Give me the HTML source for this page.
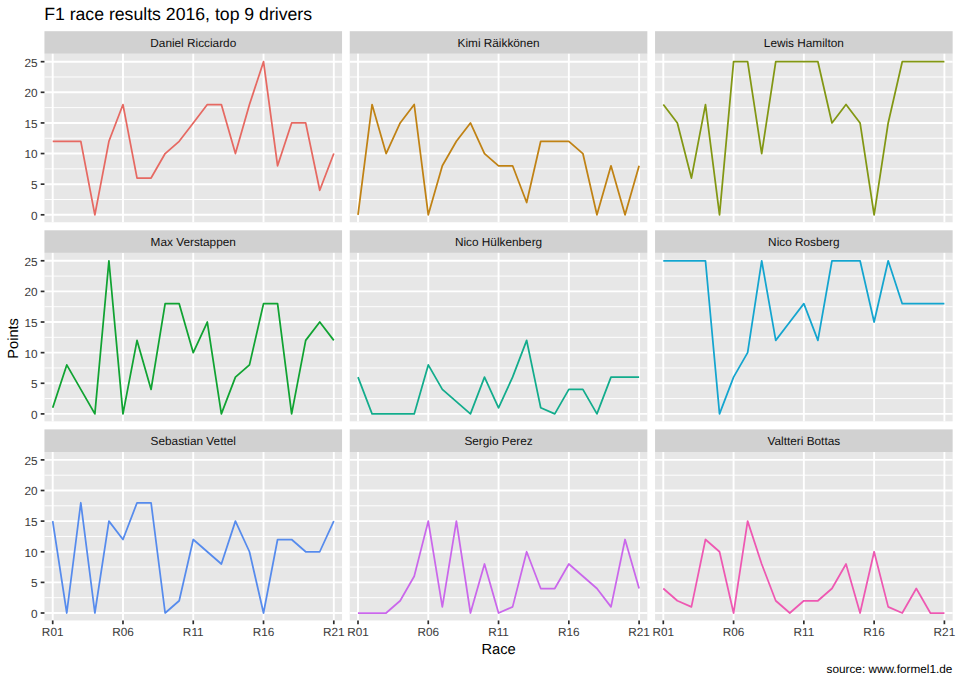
<!DOCTYPE html><html><head><meta charset="utf-8"><style>html,body{margin:0;padding:0;background:#fff;}svg{display:block;}text{font-family:"Liberation Sans",sans-serif;text-rendering:geometricPrecision;}</style></head><body>
<svg width="960" height="683" viewBox="0 0 960 683">
<rect x="0" y="0" width="960" height="683" fill="#fff"/>
<rect x="44.45" y="31.2" width="297.6" height="22.6" fill="#D1D1D1"/>
<text x="193.25" y="47" font-size="11.8" fill="#101010" text-anchor="middle">Daniel Ricciardo</text>
<rect x="44.45" y="53.8" width="297.6" height="168.45" fill="#E7E7E7"/>
<line x1="44.45" x2="342.05" y1="199.49" y2="199.49" stroke="#fff" stroke-width="0.95"/>
<line x1="44.45" x2="342.05" y1="168.86" y2="168.86" stroke="#fff" stroke-width="0.95"/>
<line x1="44.45" x2="342.05" y1="138.24" y2="138.24" stroke="#fff" stroke-width="0.95"/>
<line x1="44.45" x2="342.05" y1="107.61" y2="107.61" stroke="#fff" stroke-width="0.95"/>
<line x1="44.45" x2="342.05" y1="76.99" y2="76.99" stroke="#fff" stroke-width="0.95"/>
<line x1="44.45" x2="342.05" y1="214.8" y2="214.8" stroke="#fff" stroke-width="1.9"/>
<line x1="44.45" x2="342.05" y1="184.18" y2="184.18" stroke="#fff" stroke-width="1.9"/>
<line x1="44.45" x2="342.05" y1="153.55" y2="153.55" stroke="#fff" stroke-width="1.9"/>
<line x1="44.45" x2="342.05" y1="122.93" y2="122.93" stroke="#fff" stroke-width="1.9"/>
<line x1="44.45" x2="342.05" y1="92.3" y2="92.3" stroke="#fff" stroke-width="1.9"/>
<line x1="44.45" x2="342.05" y1="61.68" y2="61.68" stroke="#fff" stroke-width="1.9"/>
<line x1="52.7" x2="52.7" y1="53.8" y2="222.25" stroke="#fff" stroke-width="1.9"/>
<line x1="122.98" x2="122.98" y1="53.8" y2="222.25" stroke="#fff" stroke-width="1.9"/>
<line x1="193.25" x2="193.25" y1="53.8" y2="222.25" stroke="#fff" stroke-width="1.9"/>
<line x1="263.52" x2="263.52" y1="53.8" y2="222.25" stroke="#fff" stroke-width="1.9"/>
<line x1="333.8" x2="333.8" y1="53.8" y2="222.25" stroke="#fff" stroke-width="1.9"/>
<polyline points="52.7,141.3 66.75,141.3 80.81,141.3 94.87,214.8 108.92,141.3 122.98,104.55 137.03,178.05 151.08,178.05 165.14,153.55 179.19,141.3 193.25,122.93 207.31,104.55 221.36,104.55 235.42,153.55 249.47,104.55 263.52,61.68 277.58,165.8 291.63,122.93 305.69,122.93 319.75,190.3 333.8,153.55" fill="none" stroke="#E66962" stroke-width="1.75" stroke-linejoin="round" stroke-linecap="butt"/>
<line x1="40.7" x2="44.45" y1="214.8" y2="214.8" stroke="#2E2E2E" stroke-width="1.7"/>
<text x="37.6" y="219.7" font-size="11.8" fill="#3B3B3B" text-anchor="end">0</text>
<line x1="40.7" x2="44.45" y1="184.18" y2="184.18" stroke="#2E2E2E" stroke-width="1.7"/>
<text x="37.6" y="189.08" font-size="11.8" fill="#3B3B3B" text-anchor="end">5</text>
<line x1="40.7" x2="44.45" y1="153.55" y2="153.55" stroke="#2E2E2E" stroke-width="1.7"/>
<text x="37.6" y="158.45" font-size="11.8" fill="#3B3B3B" text-anchor="end">10</text>
<line x1="40.7" x2="44.45" y1="122.93" y2="122.93" stroke="#2E2E2E" stroke-width="1.7"/>
<text x="37.6" y="127.83" font-size="11.8" fill="#3B3B3B" text-anchor="end">15</text>
<line x1="40.7" x2="44.45" y1="92.3" y2="92.3" stroke="#2E2E2E" stroke-width="1.7"/>
<text x="37.6" y="97.2" font-size="11.8" fill="#3B3B3B" text-anchor="end">20</text>
<line x1="40.7" x2="44.45" y1="61.68" y2="61.68" stroke="#2E2E2E" stroke-width="1.7"/>
<text x="37.6" y="66.58" font-size="11.8" fill="#3B3B3B" text-anchor="end">25</text>
<rect x="349.75" y="31.2" width="297.6" height="22.6" fill="#D1D1D1"/>
<text x="498.55" y="47" font-size="11.8" fill="#101010" text-anchor="middle">Kimi Räikkönen</text>
<rect x="349.75" y="53.8" width="297.6" height="168.45" fill="#E7E7E7"/>
<line x1="349.75" x2="647.35" y1="199.49" y2="199.49" stroke="#fff" stroke-width="0.95"/>
<line x1="349.75" x2="647.35" y1="168.86" y2="168.86" stroke="#fff" stroke-width="0.95"/>
<line x1="349.75" x2="647.35" y1="138.24" y2="138.24" stroke="#fff" stroke-width="0.95"/>
<line x1="349.75" x2="647.35" y1="107.61" y2="107.61" stroke="#fff" stroke-width="0.95"/>
<line x1="349.75" x2="647.35" y1="76.99" y2="76.99" stroke="#fff" stroke-width="0.95"/>
<line x1="349.75" x2="647.35" y1="214.8" y2="214.8" stroke="#fff" stroke-width="1.9"/>
<line x1="349.75" x2="647.35" y1="184.18" y2="184.18" stroke="#fff" stroke-width="1.9"/>
<line x1="349.75" x2="647.35" y1="153.55" y2="153.55" stroke="#fff" stroke-width="1.9"/>
<line x1="349.75" x2="647.35" y1="122.93" y2="122.93" stroke="#fff" stroke-width="1.9"/>
<line x1="349.75" x2="647.35" y1="92.3" y2="92.3" stroke="#fff" stroke-width="1.9"/>
<line x1="349.75" x2="647.35" y1="61.68" y2="61.68" stroke="#fff" stroke-width="1.9"/>
<line x1="358" x2="358" y1="53.8" y2="222.25" stroke="#fff" stroke-width="1.9"/>
<line x1="428.27" x2="428.27" y1="53.8" y2="222.25" stroke="#fff" stroke-width="1.9"/>
<line x1="498.55" x2="498.55" y1="53.8" y2="222.25" stroke="#fff" stroke-width="1.9"/>
<line x1="568.83" x2="568.83" y1="53.8" y2="222.25" stroke="#fff" stroke-width="1.9"/>
<line x1="639.1" x2="639.1" y1="53.8" y2="222.25" stroke="#fff" stroke-width="1.9"/>
<polyline points="358,214.8 372.06,104.55 386.11,153.55 400.17,122.93 414.22,104.55 428.27,214.8 442.33,165.8 456.38,141.3 470.44,122.93 484.5,153.55 498.55,165.8 512.61,165.8 526.66,202.55 540.72,141.3 554.77,141.3 568.83,141.3 582.88,153.55 596.93,214.8 610.99,165.8 625.05,214.8 639.1,165.8" fill="none" stroke="#C08214" stroke-width="1.75" stroke-linejoin="round" stroke-linecap="butt"/>
<rect x="655.05" y="31.2" width="297.6" height="22.6" fill="#D1D1D1"/>
<text x="803.85" y="47" font-size="11.8" fill="#101010" text-anchor="middle">Lewis Hamilton</text>
<rect x="655.05" y="53.8" width="297.6" height="168.45" fill="#E7E7E7"/>
<line x1="655.05" x2="952.65" y1="199.49" y2="199.49" stroke="#fff" stroke-width="0.95"/>
<line x1="655.05" x2="952.65" y1="168.86" y2="168.86" stroke="#fff" stroke-width="0.95"/>
<line x1="655.05" x2="952.65" y1="138.24" y2="138.24" stroke="#fff" stroke-width="0.95"/>
<line x1="655.05" x2="952.65" y1="107.61" y2="107.61" stroke="#fff" stroke-width="0.95"/>
<line x1="655.05" x2="952.65" y1="76.99" y2="76.99" stroke="#fff" stroke-width="0.95"/>
<line x1="655.05" x2="952.65" y1="214.8" y2="214.8" stroke="#fff" stroke-width="1.9"/>
<line x1="655.05" x2="952.65" y1="184.18" y2="184.18" stroke="#fff" stroke-width="1.9"/>
<line x1="655.05" x2="952.65" y1="153.55" y2="153.55" stroke="#fff" stroke-width="1.9"/>
<line x1="655.05" x2="952.65" y1="122.93" y2="122.93" stroke="#fff" stroke-width="1.9"/>
<line x1="655.05" x2="952.65" y1="92.3" y2="92.3" stroke="#fff" stroke-width="1.9"/>
<line x1="655.05" x2="952.65" y1="61.68" y2="61.68" stroke="#fff" stroke-width="1.9"/>
<line x1="663.3" x2="663.3" y1="53.8" y2="222.25" stroke="#fff" stroke-width="1.9"/>
<line x1="733.58" x2="733.58" y1="53.8" y2="222.25" stroke="#fff" stroke-width="1.9"/>
<line x1="803.85" x2="803.85" y1="53.8" y2="222.25" stroke="#fff" stroke-width="1.9"/>
<line x1="874.12" x2="874.12" y1="53.8" y2="222.25" stroke="#fff" stroke-width="1.9"/>
<line x1="944.4" x2="944.4" y1="53.8" y2="222.25" stroke="#fff" stroke-width="1.9"/>
<polyline points="663.3,104.55 677.36,122.93 691.41,178.05 705.47,104.55 719.52,214.8 733.58,61.68 747.63,61.68 761.69,153.55 775.74,61.68 789.8,61.68 803.85,61.68 817.91,61.68 831.96,122.93 846.02,104.55 860.07,122.93 874.12,214.8 888.18,122.93 902.24,61.68 916.29,61.68 930.35,61.68 944.4,61.68" fill="none" stroke="#829713" stroke-width="1.75" stroke-linejoin="round" stroke-linecap="butt"/>
<rect x="44.45" y="230.3" width="297.6" height="22.6" fill="#D1D1D1"/>
<text x="193.25" y="246.1" font-size="11.8" fill="#101010" text-anchor="middle">Max Verstappen</text>
<rect x="44.45" y="252.9" width="297.6" height="168.45" fill="#E7E7E7"/>
<line x1="44.45" x2="342.05" y1="398.59" y2="398.59" stroke="#fff" stroke-width="0.95"/>
<line x1="44.45" x2="342.05" y1="367.96" y2="367.96" stroke="#fff" stroke-width="0.95"/>
<line x1="44.45" x2="342.05" y1="337.34" y2="337.34" stroke="#fff" stroke-width="0.95"/>
<line x1="44.45" x2="342.05" y1="306.71" y2="306.71" stroke="#fff" stroke-width="0.95"/>
<line x1="44.45" x2="342.05" y1="276.09" y2="276.09" stroke="#fff" stroke-width="0.95"/>
<line x1="44.45" x2="342.05" y1="413.9" y2="413.9" stroke="#fff" stroke-width="1.9"/>
<line x1="44.45" x2="342.05" y1="383.27" y2="383.27" stroke="#fff" stroke-width="1.9"/>
<line x1="44.45" x2="342.05" y1="352.65" y2="352.65" stroke="#fff" stroke-width="1.9"/>
<line x1="44.45" x2="342.05" y1="322.02" y2="322.02" stroke="#fff" stroke-width="1.9"/>
<line x1="44.45" x2="342.05" y1="291.4" y2="291.4" stroke="#fff" stroke-width="1.9"/>
<line x1="44.45" x2="342.05" y1="260.77" y2="260.77" stroke="#fff" stroke-width="1.9"/>
<line x1="52.7" x2="52.7" y1="252.9" y2="421.35" stroke="#fff" stroke-width="1.9"/>
<line x1="122.98" x2="122.98" y1="252.9" y2="421.35" stroke="#fff" stroke-width="1.9"/>
<line x1="193.25" x2="193.25" y1="252.9" y2="421.35" stroke="#fff" stroke-width="1.9"/>
<line x1="263.52" x2="263.52" y1="252.9" y2="421.35" stroke="#fff" stroke-width="1.9"/>
<line x1="333.8" x2="333.8" y1="252.9" y2="421.35" stroke="#fff" stroke-width="1.9"/>
<polyline points="52.7,407.77 66.75,364.9 80.81,389.4 94.87,413.9 108.92,260.77 122.98,413.9 137.03,340.4 151.08,389.4 165.14,303.65 179.19,303.65 193.25,352.65 207.31,322.02 221.36,413.9 235.42,377.15 249.47,364.9 263.52,303.65 277.58,303.65 291.63,413.9 305.69,340.4 319.75,322.02 333.8,340.4" fill="none" stroke="#10A332" stroke-width="1.75" stroke-linejoin="round" stroke-linecap="butt"/>
<line x1="40.7" x2="44.45" y1="413.9" y2="413.9" stroke="#2E2E2E" stroke-width="1.7"/>
<text x="37.6" y="418.8" font-size="11.8" fill="#3B3B3B" text-anchor="end">0</text>
<line x1="40.7" x2="44.45" y1="383.27" y2="383.27" stroke="#2E2E2E" stroke-width="1.7"/>
<text x="37.6" y="388.17" font-size="11.8" fill="#3B3B3B" text-anchor="end">5</text>
<line x1="40.7" x2="44.45" y1="352.65" y2="352.65" stroke="#2E2E2E" stroke-width="1.7"/>
<text x="37.6" y="357.55" font-size="11.8" fill="#3B3B3B" text-anchor="end">10</text>
<line x1="40.7" x2="44.45" y1="322.02" y2="322.02" stroke="#2E2E2E" stroke-width="1.7"/>
<text x="37.6" y="326.92" font-size="11.8" fill="#3B3B3B" text-anchor="end">15</text>
<line x1="40.7" x2="44.45" y1="291.4" y2="291.4" stroke="#2E2E2E" stroke-width="1.7"/>
<text x="37.6" y="296.3" font-size="11.8" fill="#3B3B3B" text-anchor="end">20</text>
<line x1="40.7" x2="44.45" y1="260.77" y2="260.77" stroke="#2E2E2E" stroke-width="1.7"/>
<text x="37.6" y="265.67" font-size="11.8" fill="#3B3B3B" text-anchor="end">25</text>
<rect x="349.75" y="230.3" width="297.6" height="22.6" fill="#D1D1D1"/>
<text x="498.55" y="246.1" font-size="11.8" fill="#101010" text-anchor="middle">Nico Hülkenberg</text>
<rect x="349.75" y="252.9" width="297.6" height="168.45" fill="#E7E7E7"/>
<line x1="349.75" x2="647.35" y1="398.59" y2="398.59" stroke="#fff" stroke-width="0.95"/>
<line x1="349.75" x2="647.35" y1="367.96" y2="367.96" stroke="#fff" stroke-width="0.95"/>
<line x1="349.75" x2="647.35" y1="337.34" y2="337.34" stroke="#fff" stroke-width="0.95"/>
<line x1="349.75" x2="647.35" y1="306.71" y2="306.71" stroke="#fff" stroke-width="0.95"/>
<line x1="349.75" x2="647.35" y1="276.09" y2="276.09" stroke="#fff" stroke-width="0.95"/>
<line x1="349.75" x2="647.35" y1="413.9" y2="413.9" stroke="#fff" stroke-width="1.9"/>
<line x1="349.75" x2="647.35" y1="383.27" y2="383.27" stroke="#fff" stroke-width="1.9"/>
<line x1="349.75" x2="647.35" y1="352.65" y2="352.65" stroke="#fff" stroke-width="1.9"/>
<line x1="349.75" x2="647.35" y1="322.02" y2="322.02" stroke="#fff" stroke-width="1.9"/>
<line x1="349.75" x2="647.35" y1="291.4" y2="291.4" stroke="#fff" stroke-width="1.9"/>
<line x1="349.75" x2="647.35" y1="260.77" y2="260.77" stroke="#fff" stroke-width="1.9"/>
<line x1="358" x2="358" y1="252.9" y2="421.35" stroke="#fff" stroke-width="1.9"/>
<line x1="428.27" x2="428.27" y1="252.9" y2="421.35" stroke="#fff" stroke-width="1.9"/>
<line x1="498.55" x2="498.55" y1="252.9" y2="421.35" stroke="#fff" stroke-width="1.9"/>
<line x1="568.83" x2="568.83" y1="252.9" y2="421.35" stroke="#fff" stroke-width="1.9"/>
<line x1="639.1" x2="639.1" y1="252.9" y2="421.35" stroke="#fff" stroke-width="1.9"/>
<polyline points="358,377.15 372.06,413.9 386.11,413.9 400.17,413.9 414.22,413.9 428.27,364.9 442.33,389.4 456.38,401.65 470.44,413.9 484.5,377.15 498.55,407.77 512.61,377.15 526.66,340.4 540.72,407.77 554.77,413.9 568.83,389.4 582.88,389.4 596.93,413.9 610.99,377.15 625.05,377.15 639.1,377.15" fill="none" stroke="#12AC8C" stroke-width="1.75" stroke-linejoin="round" stroke-linecap="butt"/>
<rect x="655.05" y="230.3" width="297.6" height="22.6" fill="#D1D1D1"/>
<text x="803.85" y="246.1" font-size="11.8" fill="#101010" text-anchor="middle">Nico Rosberg</text>
<rect x="655.05" y="252.9" width="297.6" height="168.45" fill="#E7E7E7"/>
<line x1="655.05" x2="952.65" y1="398.59" y2="398.59" stroke="#fff" stroke-width="0.95"/>
<line x1="655.05" x2="952.65" y1="367.96" y2="367.96" stroke="#fff" stroke-width="0.95"/>
<line x1="655.05" x2="952.65" y1="337.34" y2="337.34" stroke="#fff" stroke-width="0.95"/>
<line x1="655.05" x2="952.65" y1="306.71" y2="306.71" stroke="#fff" stroke-width="0.95"/>
<line x1="655.05" x2="952.65" y1="276.09" y2="276.09" stroke="#fff" stroke-width="0.95"/>
<line x1="655.05" x2="952.65" y1="413.9" y2="413.9" stroke="#fff" stroke-width="1.9"/>
<line x1="655.05" x2="952.65" y1="383.27" y2="383.27" stroke="#fff" stroke-width="1.9"/>
<line x1="655.05" x2="952.65" y1="352.65" y2="352.65" stroke="#fff" stroke-width="1.9"/>
<line x1="655.05" x2="952.65" y1="322.02" y2="322.02" stroke="#fff" stroke-width="1.9"/>
<line x1="655.05" x2="952.65" y1="291.4" y2="291.4" stroke="#fff" stroke-width="1.9"/>
<line x1="655.05" x2="952.65" y1="260.77" y2="260.77" stroke="#fff" stroke-width="1.9"/>
<line x1="663.3" x2="663.3" y1="252.9" y2="421.35" stroke="#fff" stroke-width="1.9"/>
<line x1="733.58" x2="733.58" y1="252.9" y2="421.35" stroke="#fff" stroke-width="1.9"/>
<line x1="803.85" x2="803.85" y1="252.9" y2="421.35" stroke="#fff" stroke-width="1.9"/>
<line x1="874.12" x2="874.12" y1="252.9" y2="421.35" stroke="#fff" stroke-width="1.9"/>
<line x1="944.4" x2="944.4" y1="252.9" y2="421.35" stroke="#fff" stroke-width="1.9"/>
<polyline points="663.3,260.77 677.36,260.77 691.41,260.77 705.47,260.77 719.52,413.9 733.58,377.15 747.63,352.65 761.69,260.77 775.74,340.4 789.8,322.02 803.85,303.65 817.91,340.4 831.96,260.77 846.02,260.77 860.07,260.77 874.12,322.02 888.18,260.77 902.24,303.65 916.29,303.65 930.35,303.65 944.4,303.65" fill="none" stroke="#13A5CF" stroke-width="1.75" stroke-linejoin="round" stroke-linecap="butt"/>
<rect x="44.45" y="429.4" width="297.6" height="22.6" fill="#D1D1D1"/>
<text x="193.25" y="445.2" font-size="11.8" fill="#101010" text-anchor="middle">Sebastian Vettel</text>
<rect x="44.45" y="452" width="297.6" height="168.45" fill="#E7E7E7"/>
<line x1="44.45" x2="342.05" y1="597.69" y2="597.69" stroke="#fff" stroke-width="0.95"/>
<line x1="44.45" x2="342.05" y1="567.06" y2="567.06" stroke="#fff" stroke-width="0.95"/>
<line x1="44.45" x2="342.05" y1="536.44" y2="536.44" stroke="#fff" stroke-width="0.95"/>
<line x1="44.45" x2="342.05" y1="505.81" y2="505.81" stroke="#fff" stroke-width="0.95"/>
<line x1="44.45" x2="342.05" y1="475.19" y2="475.19" stroke="#fff" stroke-width="0.95"/>
<line x1="44.45" x2="342.05" y1="613" y2="613" stroke="#fff" stroke-width="1.9"/>
<line x1="44.45" x2="342.05" y1="582.38" y2="582.38" stroke="#fff" stroke-width="1.9"/>
<line x1="44.45" x2="342.05" y1="551.75" y2="551.75" stroke="#fff" stroke-width="1.9"/>
<line x1="44.45" x2="342.05" y1="521.12" y2="521.12" stroke="#fff" stroke-width="1.9"/>
<line x1="44.45" x2="342.05" y1="490.5" y2="490.5" stroke="#fff" stroke-width="1.9"/>
<line x1="44.45" x2="342.05" y1="459.88" y2="459.88" stroke="#fff" stroke-width="1.9"/>
<line x1="52.7" x2="52.7" y1="452" y2="620.45" stroke="#fff" stroke-width="1.9"/>
<line x1="122.98" x2="122.98" y1="452" y2="620.45" stroke="#fff" stroke-width="1.9"/>
<line x1="193.25" x2="193.25" y1="452" y2="620.45" stroke="#fff" stroke-width="1.9"/>
<line x1="263.52" x2="263.52" y1="452" y2="620.45" stroke="#fff" stroke-width="1.9"/>
<line x1="333.8" x2="333.8" y1="452" y2="620.45" stroke="#fff" stroke-width="1.9"/>
<polyline points="52.7,521.12 66.75,613 80.81,502.75 94.87,613 108.92,521.12 122.98,539.5 137.03,502.75 151.08,502.75 165.14,613 179.19,600.75 193.25,539.5 207.31,551.75 221.36,564 235.42,521.12 249.47,551.75 263.52,613 277.58,539.5 291.63,539.5 305.69,551.75 319.75,551.75 333.8,521.12" fill="none" stroke="#568BED" stroke-width="1.75" stroke-linejoin="round" stroke-linecap="butt"/>
<line x1="40.7" x2="44.45" y1="613" y2="613" stroke="#2E2E2E" stroke-width="1.7"/>
<text x="37.6" y="617.9" font-size="11.8" fill="#3B3B3B" text-anchor="end">0</text>
<line x1="40.7" x2="44.45" y1="582.38" y2="582.38" stroke="#2E2E2E" stroke-width="1.7"/>
<text x="37.6" y="587.27" font-size="11.8" fill="#3B3B3B" text-anchor="end">5</text>
<line x1="40.7" x2="44.45" y1="551.75" y2="551.75" stroke="#2E2E2E" stroke-width="1.7"/>
<text x="37.6" y="556.65" font-size="11.8" fill="#3B3B3B" text-anchor="end">10</text>
<line x1="40.7" x2="44.45" y1="521.12" y2="521.12" stroke="#2E2E2E" stroke-width="1.7"/>
<text x="37.6" y="526.02" font-size="11.8" fill="#3B3B3B" text-anchor="end">15</text>
<line x1="40.7" x2="44.45" y1="490.5" y2="490.5" stroke="#2E2E2E" stroke-width="1.7"/>
<text x="37.6" y="495.4" font-size="11.8" fill="#3B3B3B" text-anchor="end">20</text>
<line x1="40.7" x2="44.45" y1="459.88" y2="459.88" stroke="#2E2E2E" stroke-width="1.7"/>
<text x="37.6" y="464.77" font-size="11.8" fill="#3B3B3B" text-anchor="end">25</text>
<line x1="52.7" x2="52.7" y1="620.45" y2="624.2" stroke="#2E2E2E" stroke-width="1.7"/>
<text x="52.7" y="635.9" font-size="11.8" fill="#3B3B3B" text-anchor="middle">R01</text>
<line x1="122.98" x2="122.98" y1="620.45" y2="624.2" stroke="#2E2E2E" stroke-width="1.7"/>
<text x="122.98" y="635.9" font-size="11.8" fill="#3B3B3B" text-anchor="middle">R06</text>
<line x1="193.25" x2="193.25" y1="620.45" y2="624.2" stroke="#2E2E2E" stroke-width="1.7"/>
<text x="193.25" y="635.9" font-size="11.8" fill="#3B3B3B" text-anchor="middle">R11</text>
<line x1="263.52" x2="263.52" y1="620.45" y2="624.2" stroke="#2E2E2E" stroke-width="1.7"/>
<text x="263.52" y="635.9" font-size="11.8" fill="#3B3B3B" text-anchor="middle">R16</text>
<line x1="333.8" x2="333.8" y1="620.45" y2="624.2" stroke="#2E2E2E" stroke-width="1.7"/>
<text x="333.8" y="635.9" font-size="11.8" fill="#3B3B3B" text-anchor="middle">R21</text>
<rect x="349.75" y="429.4" width="297.6" height="22.6" fill="#D1D1D1"/>
<text x="498.55" y="445.2" font-size="11.8" fill="#101010" text-anchor="middle">Sergio Perez</text>
<rect x="349.75" y="452" width="297.6" height="168.45" fill="#E7E7E7"/>
<line x1="349.75" x2="647.35" y1="597.69" y2="597.69" stroke="#fff" stroke-width="0.95"/>
<line x1="349.75" x2="647.35" y1="567.06" y2="567.06" stroke="#fff" stroke-width="0.95"/>
<line x1="349.75" x2="647.35" y1="536.44" y2="536.44" stroke="#fff" stroke-width="0.95"/>
<line x1="349.75" x2="647.35" y1="505.81" y2="505.81" stroke="#fff" stroke-width="0.95"/>
<line x1="349.75" x2="647.35" y1="475.19" y2="475.19" stroke="#fff" stroke-width="0.95"/>
<line x1="349.75" x2="647.35" y1="613" y2="613" stroke="#fff" stroke-width="1.9"/>
<line x1="349.75" x2="647.35" y1="582.38" y2="582.38" stroke="#fff" stroke-width="1.9"/>
<line x1="349.75" x2="647.35" y1="551.75" y2="551.75" stroke="#fff" stroke-width="1.9"/>
<line x1="349.75" x2="647.35" y1="521.12" y2="521.12" stroke="#fff" stroke-width="1.9"/>
<line x1="349.75" x2="647.35" y1="490.5" y2="490.5" stroke="#fff" stroke-width="1.9"/>
<line x1="349.75" x2="647.35" y1="459.88" y2="459.88" stroke="#fff" stroke-width="1.9"/>
<line x1="358" x2="358" y1="452" y2="620.45" stroke="#fff" stroke-width="1.9"/>
<line x1="428.27" x2="428.27" y1="452" y2="620.45" stroke="#fff" stroke-width="1.9"/>
<line x1="498.55" x2="498.55" y1="452" y2="620.45" stroke="#fff" stroke-width="1.9"/>
<line x1="568.83" x2="568.83" y1="452" y2="620.45" stroke="#fff" stroke-width="1.9"/>
<line x1="639.1" x2="639.1" y1="452" y2="620.45" stroke="#fff" stroke-width="1.9"/>
<polyline points="358,613 372.06,613 386.11,613 400.17,600.75 414.22,576.25 428.27,521.12 442.33,606.88 456.38,521.12 470.44,613 484.5,564 498.55,613 512.61,606.88 526.66,551.75 540.72,588.5 554.77,588.5 568.83,564 582.88,576.25 596.93,588.5 610.99,606.88 625.05,539.5 639.1,588.5" fill="none" stroke="#CA67EB" stroke-width="1.75" stroke-linejoin="round" stroke-linecap="butt"/>
<line x1="358" x2="358" y1="620.45" y2="624.2" stroke="#2E2E2E" stroke-width="1.7"/>
<text x="358" y="635.9" font-size="11.8" fill="#3B3B3B" text-anchor="middle">R01</text>
<line x1="428.27" x2="428.27" y1="620.45" y2="624.2" stroke="#2E2E2E" stroke-width="1.7"/>
<text x="428.27" y="635.9" font-size="11.8" fill="#3B3B3B" text-anchor="middle">R06</text>
<line x1="498.55" x2="498.55" y1="620.45" y2="624.2" stroke="#2E2E2E" stroke-width="1.7"/>
<text x="498.55" y="635.9" font-size="11.8" fill="#3B3B3B" text-anchor="middle">R11</text>
<line x1="568.83" x2="568.83" y1="620.45" y2="624.2" stroke="#2E2E2E" stroke-width="1.7"/>
<text x="568.83" y="635.9" font-size="11.8" fill="#3B3B3B" text-anchor="middle">R16</text>
<line x1="639.1" x2="639.1" y1="620.45" y2="624.2" stroke="#2E2E2E" stroke-width="1.7"/>
<text x="639.1" y="635.9" font-size="11.8" fill="#3B3B3B" text-anchor="middle">R21</text>
<rect x="655.05" y="429.4" width="297.6" height="22.6" fill="#D1D1D1"/>
<text x="803.85" y="445.2" font-size="11.8" fill="#101010" text-anchor="middle">Valtteri Bottas</text>
<rect x="655.05" y="452" width="297.6" height="168.45" fill="#E7E7E7"/>
<line x1="655.05" x2="952.65" y1="597.69" y2="597.69" stroke="#fff" stroke-width="0.95"/>
<line x1="655.05" x2="952.65" y1="567.06" y2="567.06" stroke="#fff" stroke-width="0.95"/>
<line x1="655.05" x2="952.65" y1="536.44" y2="536.44" stroke="#fff" stroke-width="0.95"/>
<line x1="655.05" x2="952.65" y1="505.81" y2="505.81" stroke="#fff" stroke-width="0.95"/>
<line x1="655.05" x2="952.65" y1="475.19" y2="475.19" stroke="#fff" stroke-width="0.95"/>
<line x1="655.05" x2="952.65" y1="613" y2="613" stroke="#fff" stroke-width="1.9"/>
<line x1="655.05" x2="952.65" y1="582.38" y2="582.38" stroke="#fff" stroke-width="1.9"/>
<line x1="655.05" x2="952.65" y1="551.75" y2="551.75" stroke="#fff" stroke-width="1.9"/>
<line x1="655.05" x2="952.65" y1="521.12" y2="521.12" stroke="#fff" stroke-width="1.9"/>
<line x1="655.05" x2="952.65" y1="490.5" y2="490.5" stroke="#fff" stroke-width="1.9"/>
<line x1="655.05" x2="952.65" y1="459.88" y2="459.88" stroke="#fff" stroke-width="1.9"/>
<line x1="663.3" x2="663.3" y1="452" y2="620.45" stroke="#fff" stroke-width="1.9"/>
<line x1="733.58" x2="733.58" y1="452" y2="620.45" stroke="#fff" stroke-width="1.9"/>
<line x1="803.85" x2="803.85" y1="452" y2="620.45" stroke="#fff" stroke-width="1.9"/>
<line x1="874.12" x2="874.12" y1="452" y2="620.45" stroke="#fff" stroke-width="1.9"/>
<line x1="944.4" x2="944.4" y1="452" y2="620.45" stroke="#fff" stroke-width="1.9"/>
<polyline points="663.3,588.5 677.36,600.75 691.41,606.88 705.47,539.5 719.52,551.75 733.58,613 747.63,521.12 761.69,564 775.74,600.75 789.8,613 803.85,600.75 817.91,600.75 831.96,588.5 846.02,564 860.07,613 874.12,551.75 888.18,606.88 902.24,613 916.29,588.5 930.35,613 944.4,613" fill="none" stroke="#EE58B2" stroke-width="1.75" stroke-linejoin="round" stroke-linecap="butt"/>
<line x1="663.3" x2="663.3" y1="620.45" y2="624.2" stroke="#2E2E2E" stroke-width="1.7"/>
<text x="663.3" y="635.9" font-size="11.8" fill="#3B3B3B" text-anchor="middle">R01</text>
<line x1="733.58" x2="733.58" y1="620.45" y2="624.2" stroke="#2E2E2E" stroke-width="1.7"/>
<text x="733.58" y="635.9" font-size="11.8" fill="#3B3B3B" text-anchor="middle">R06</text>
<line x1="803.85" x2="803.85" y1="620.45" y2="624.2" stroke="#2E2E2E" stroke-width="1.7"/>
<text x="803.85" y="635.9" font-size="11.8" fill="#3B3B3B" text-anchor="middle">R11</text>
<line x1="874.12" x2="874.12" y1="620.45" y2="624.2" stroke="#2E2E2E" stroke-width="1.7"/>
<text x="874.12" y="635.9" font-size="11.8" fill="#3B3B3B" text-anchor="middle">R16</text>
<line x1="944.4" x2="944.4" y1="620.45" y2="624.2" stroke="#2E2E2E" stroke-width="1.7"/>
<text x="944.4" y="635.9" font-size="11.8" fill="#3B3B3B" text-anchor="middle">R21</text>
<text x="44.15" y="20.2" font-size="17.67" fill="#000">F1 race results 2016, top 9 drivers</text>
<text x="498.55" y="653.8" font-size="14.7" fill="#000" text-anchor="middle">Race</text>
<text transform="translate(17.8,338.43) rotate(-90)" x="0" y="0" font-size="14.6" fill="#000" text-anchor="middle">Points</text>
<text x="952.4" y="672.9" font-size="11.8" fill="#000" text-anchor="end">source: www.formel1.de</text>
</svg></body></html>
